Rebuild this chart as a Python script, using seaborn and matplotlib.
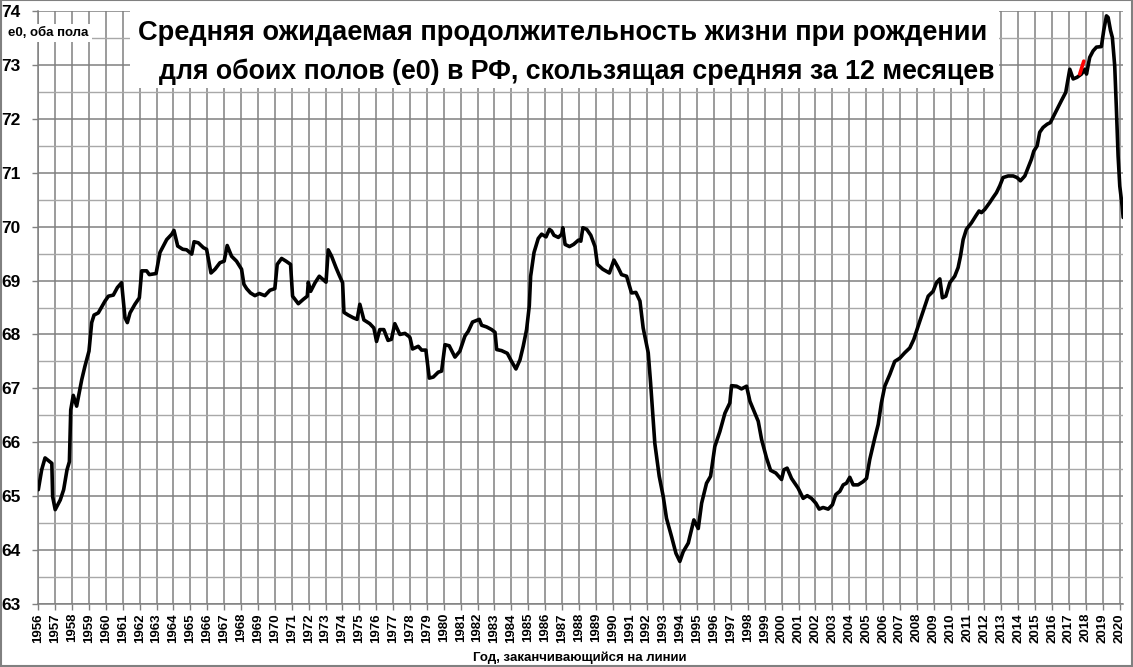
import matplotlib
matplotlib.use('Agg')
import pandas as pd
import matplotlib.pyplot as plt
import seaborn as sns
import numpy as np
from matplotlib.patches import Rectangle

# year (fraction) and e0 value
years = [1956.00, 1956.20, 1956.40, 1956.80, 1956.85, 1957.00, 1957.30, 1957.50, 1957.70, 1957.84,
         1957.92, 1958.07, 1958.27, 1958.57, 1958.76, 1959.00, 1959.16, 1959.30, 1959.55, 1959.95,
         1960.15, 1960.44, 1960.68, 1960.93, 1961.13, 1961.27, 1961.43, 1961.72, 1961.98, 1962.12,
         1962.41, 1962.57, 1962.97, 1963.20, 1963.60, 1963.90, 1964.03, 1964.25, 1964.55, 1964.78,
         1965.08, 1965.22, 1965.47, 1965.77, 1965.96, 1966.22, 1966.46, 1966.75, 1967.00, 1967.18,
         1967.44, 1967.73, 1968.03, 1968.17, 1968.33, 1968.56, 1968.82, 1969.08, 1969.41, 1969.71,
         1970.00, 1970.14, 1970.40, 1970.66, 1970.93, 1971.05, 1971.39, 1971.68, 1971.92, 1971.98,
         1972.12, 1972.38, 1972.63, 1973.03, 1973.16, 1973.36, 1973.62, 1973.81, 1974.01, 1974.09,
         1974.34, 1974.64, 1974.87, 1975.03, 1975.27, 1975.62, 1975.86, 1976.02, 1976.21, 1976.45,
         1976.70, 1976.90, 1977.10, 1977.40, 1977.70, 1977.95, 1978.00, 1978.15, 1978.49, 1978.69,
         1978.94, 1979.14, 1979.38, 1979.67, 1979.87, 1980.07, 1980.32, 1980.66, 1980.95, 1981.25,
         1981.45, 1981.70, 1982.10, 1982.24, 1982.53, 1982.83, 1983.03, 1983.13, 1983.42, 1983.76,
         1984.01, 1984.27, 1984.51, 1984.70, 1984.90, 1985.06, 1985.14, 1985.34, 1985.59, 1985.79,
         1986.05, 1986.25, 1986.38, 1986.52, 1986.78, 1986.98, 1987.04, 1987.18, 1987.44, 1987.68,
         1987.97, 1988.11, 1988.23, 1988.46, 1988.70, 1988.95, 1989.09, 1989.41, 1989.80, 1990.07,
         1990.32, 1990.52, 1990.82, 1991.11, 1991.37, 1991.61, 1991.80, 1992.10, 1992.24, 1992.49,
         1992.75, 1992.99, 1993.18, 1993.48, 1993.74, 1993.97, 1994.17, 1994.47, 1994.80, 1995.06,
         1995.26, 1995.55, 1995.79, 1996.04, 1996.34, 1996.64, 1996.93, 1997.03, 1997.33, 1997.62,
         1997.92, 1998.12, 1998.41, 1998.61, 1998.81, 1999.10, 1999.34, 1999.65, 1999.99, 2000.13,
         2000.32, 2000.58, 2000.97, 2001.27, 2001.51, 2001.76, 2002.02, 2002.22, 2002.45, 2002.75,
         2003.00, 2003.20, 2003.44, 2003.64, 2003.83, 2004.03, 2004.23, 2004.52, 2004.82, 2005.02,
         2005.21, 2005.51, 2005.71, 2005.90, 2006.10, 2006.40, 2006.69, 2006.99, 2007.28, 2007.58,
         2007.82, 2008.07, 2008.37, 2008.67, 2008.96, 2009.16, 2009.36, 2009.51, 2009.71, 2009.95,
         2010.24, 2010.44, 2010.58, 2010.74, 2010.93, 2011.23, 2011.49, 2011.68, 2011.82, 2012.02,
         2012.32, 2012.51, 2012.71, 2012.91, 2013.10, 2013.40, 2013.70, 2013.93, 2014.13, 2014.39,
         2014.58, 2014.78, 2014.92, 2015.12, 2015.27, 2015.47, 2015.71, 2015.90, 2016.06, 2016.30,
         2016.56, 2016.81, 2016.95, 2017.05, 2017.25, 2017.48, 2017.74, 2017.94, 2018.04, 2018.23,
         2018.43, 2018.63, 2018.92, 2019.06, 2019.22, 2019.32, 2019.46, 2019.57, 2019.71, 2019.81,
         2019.91, 2020.01, 2020.15, 2020.21]

e0 = [65.12, 65.49, 65.71, 65.61, 64.99, 64.75, 64.93, 65.12, 65.49, 65.64,
      66.60, 66.87, 66.67, 67.16, 67.41, 67.69, 68.22, 68.36, 68.40, 68.62,
      68.71, 68.73, 68.87, 68.96, 68.31, 68.22, 68.40, 68.56, 68.68, 69.18,
      69.18, 69.11, 69.13, 69.52, 69.76, 69.86, 69.93, 69.64, 69.58, 69.57,
      69.49, 69.72, 69.70, 69.61, 69.58, 69.14, 69.21, 69.33, 69.36, 69.65,
      69.45, 69.36, 69.21, 68.93, 68.85, 68.77, 68.72, 68.76, 68.72, 68.82,
      68.85, 69.30, 69.41, 69.36, 69.30, 68.71, 68.57, 68.65, 68.71, 68.97,
      68.80, 68.96, 69.08, 68.97, 69.57, 69.45, 69.24, 69.10, 68.96, 68.41,
      68.36, 68.31, 68.28, 68.56, 68.27, 68.20, 68.12, 67.87, 68.09, 68.09,
      67.89, 67.91, 68.20, 68.00, 68.02, 67.96, 67.94, 67.73, 67.78, 67.71,
      67.71, 67.19, 67.21, 67.30, 67.32, 67.81, 67.79, 67.58, 67.69, 67.97,
      68.06, 68.23, 68.28, 68.17, 68.14, 68.09, 68.04, 67.72, 67.70, 67.65,
      67.50, 67.36, 67.53, 67.78, 68.09, 68.53, 69.08, 69.52, 69.78, 69.86,
      69.81, 69.95, 69.92, 69.84, 69.80, 69.86, 69.98, 69.67, 69.63, 69.67,
      69.75, 69.73, 69.98, 69.95, 69.84, 69.63, 69.30, 69.21, 69.14, 69.38,
      69.24, 69.11, 69.08, 68.77, 68.78, 68.62, 68.12, 67.66, 67.10, 65.98,
      65.37, 64.99, 64.59, 64.25, 63.94, 63.79, 63.97, 64.13, 64.56, 64.40,
      64.87, 65.24, 65.37, 65.92, 66.20, 66.54, 66.73, 67.05, 67.04, 66.99,
      67.04, 66.76, 66.54, 66.39, 66.05, 65.71, 65.48, 65.43, 65.31, 65.49,
      65.52, 65.33, 65.15, 64.96, 65.01, 64.96, 64.87, 64.76, 64.79, 64.76,
      64.84, 65.03, 65.09, 65.21, 65.24, 65.35, 65.21, 65.21, 65.27, 65.33,
      65.68, 66.08, 66.33, 66.73, 67.04, 67.26, 67.50, 67.56, 67.66, 67.75,
      67.91, 68.15, 68.43, 68.71, 68.80, 68.96, 69.03, 68.68, 68.71, 68.96,
      69.08, 69.24, 69.45, 69.76, 69.95, 70.07, 70.20, 70.29, 70.26, 70.32,
      70.45, 70.54, 70.63, 70.76, 70.91, 70.94, 70.94, 70.91, 70.85, 70.94,
      71.09, 71.25, 71.40, 71.50, 71.75, 71.84, 71.90, 71.93, 72.03, 72.18,
      72.34, 72.49, 72.74, 72.92, 72.74, 72.77, 72.83, 72.92, 72.83, 73.14,
      73.26, 73.33, 73.34, 73.64, 73.91, 73.88, 73.64, 73.51, 72.98, 72.18,
      71.31, 70.75, 70.38, 70.17]

# small red piece near 2018
red_years = [2017.64, 2017.88]
red_e0 = [72.83, 73.07]

year_ticks = list(range(1956, 2021))
y_ticks = list(range(63, 75))

title1 = "Средняя ожидаемая продолжительность жизни при рождении"
title2 = "для обоих полов (e0) в РФ, скользящая средняя за 12 месяцев"
ylab = "e0, оба пола"
xlab = "Год, заканчивающийся на линии"

sns.set_theme(style='white')
plt.rcParams['font.family'] = ['Liberation Sans', 'DejaVu Sans']
plt.rcParams['font.weight'] = 'bold'
plt.rcParams['text.color'] = 'black'
plt.rcParams['xtick.labelcolor'] = 'black'
plt.rcParams['ytick.labelcolor'] = 'black'

W, H = 1133, 667
fig = plt.figure(figsize=(W / 100, H / 100), dpi=100)
ax = fig.add_axes([38.3 / W, 1 - 604 / H, (1123 - 38.3) / W, (604 - 11) / H])

df = pd.DataFrame({'year': years, 'e0': e0})
sns.lineplot(data=df, x='year', y='e0', ax=ax, color='black', lw=2.6, zorder=5)
dfr = pd.DataFrame({'year': red_years, 'e0': red_e0})
sns.lineplot(data=dfr, x='year', y='e0', ax=ax, color='red', lw=2.6, zorder=6)

ax.set_xlim(1956, 2020.2)
ax.set_ylim(63, 74)
ax.set_xticks(year_ticks)
ax.set_xticklabels([str(y) for y in year_ticks], rotation=90, fontsize=9.5, fontweight='bold', color='black')
ax.set_yticks(y_ticks)
ax.set_yticklabels([str(v) for v in y_ticks], fontsize=12.5, fontweight='bold', color='black')
ax.set_yticks(np.arange(63.5, 74, 1.0), minor=True)
ax.grid(True, which='major', axis='both', color='#808080', lw=1.1, zorder=0)
ax.grid(True, which='minor', axis='y', color='#a8a8a8', lw=1.0, zorder=0)
ax.tick_params(axis='x', which='major', length=4.5, width=1, color='#808080', pad=2, bottom=True)
ax.tick_params(axis='y', which='major', length=4.5, width=1, color='#808080', pad=8, left=True)
ax.tick_params(axis='y', which='minor', length=0)
ax.set_xlabel('')
ax.set_ylabel('')
for s in ['top', 'right']:
    ax.spines[s].set_visible(False)
for s in ['left', 'bottom']:
    ax.spines[s].set_color('#808080')
    ax.spines[s].set_linewidth(1.1)

# white box behind the title
x0 = (130 - 38.3) / (1123 - 38.3)
x1 = (999 - 38.3) / (1123 - 38.3)
y0 = (604 - 88) / (604 - 11)
ax.add_patch(Rectangle((x0, y0), x1 - x0, 1.05 - y0, transform=ax.transAxes,
                       facecolor='white', edgecolor='none', zorder=3, clip_on=False))
fig.text(563 / W, 1 - 33 / H, title1, ha='center', va='center', fontsize=19.6, fontweight='bold',
         color='black', zorder=10)
fig.text(577 / W, 1 - 72 / H, title2, ha='center', va='center', fontsize=19.3, fontweight='bold',
         color='black', zorder=10)

fig.text(8 / W, 1 - 33 / H, ylab, ha='left', va='center', fontsize=9.5, fontweight='bold', color='black',
         zorder=10, bbox=dict(facecolor='white', edgecolor='none', pad=2.5))
fig.text(580 / W, 1 - 658 / H, xlab, ha='center', va='center', fontsize=9.5, fontweight='bold', color='black')

# grey frame round the whole picture
fig.patches.append(Rectangle((0.0005, 0.0008), 0.999, 0.9985, transform=fig.transFigure,
                             fill=False, edgecolor='#808080', lw=1.5))

fig.savefig('out.png', dpi=100)
